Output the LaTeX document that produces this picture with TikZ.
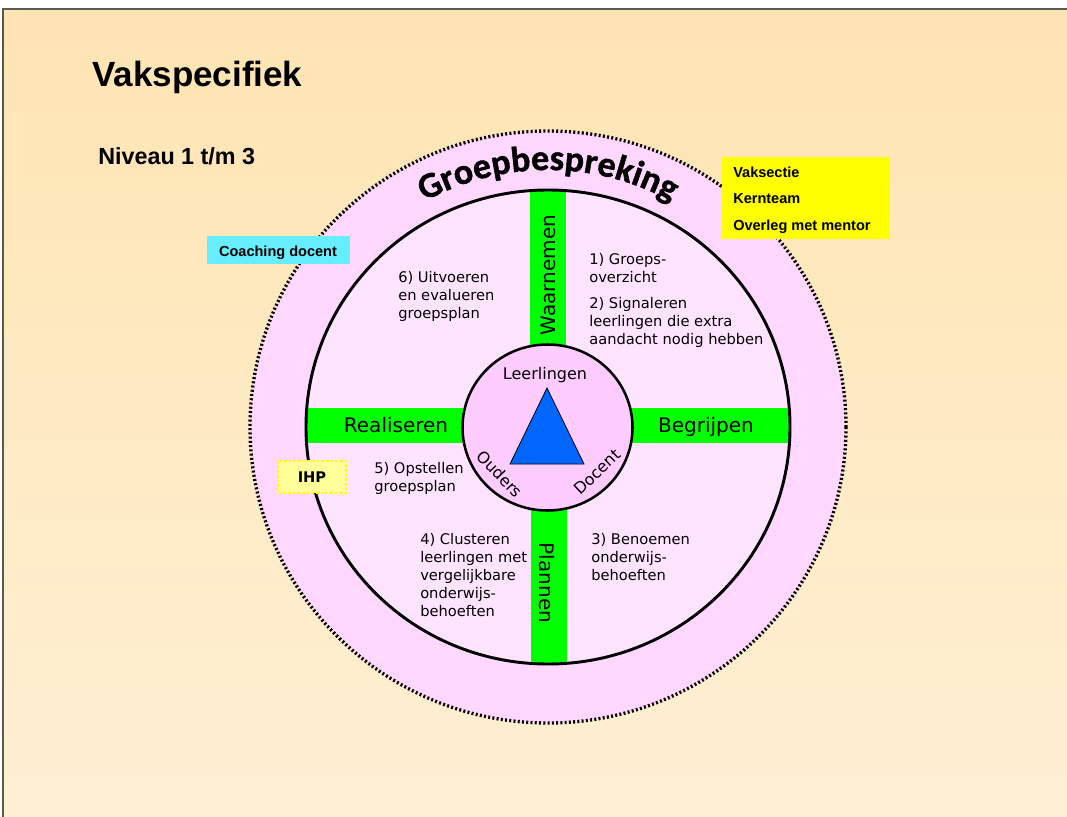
\documentclass[tikz,border=0pt]{standalone}
\usepackage{fontspec}
\setmainfont{DejaVu Sans}
\newfontfamily\arialfont{Liberation Sans}
\newfontfamily\calibrifont[FakeBold=1.2]{Carlito}
\usetikzlibrary{decorations.text}
\definecolor{bgtop}{HTML}{FEE4B2}
\definecolor{bgbottom}{HTML}{FFF0D4}
\definecolor{frame}{HTML}{5E5A52}
\definecolor{ring}{HTML}{FFD7FF}
\definecolor{disc}{HTML}{FFE4FF}
\definecolor{hub}{HTML}{FFCCFF}
\definecolor{bar}{HTML}{00FF00}
\definecolor{tri}{HTML}{0066FF}
\definecolor{coach}{HTML}{66EEFF}
\definecolor{note}{HTML}{FFFF00}
\definecolor{ihp}{HTML}{FFFF99}
\tikzset{
  body/.style={font=\fontsize{11}{13.5}\selectfont,align=left,anchor=north west,inner sep=0pt},
  barlabel/.style={font=\fontsize{15}{15}\selectfont,anchor=base,inner sep=0pt},
  hublabel/.style={font=\fontsize{12}{12}\selectfont,inner sep=0pt},
  boxlabel/.style={font=\arialfont\bfseries\fontsize{10.9}{20}\selectfont,inner sep=0pt},
}

\begin{document}
\begin{tikzpicture}[x=0.75pt,y=-0.75pt]
\useasboundingbox (0,0) rectangle (1067,817);
% slide background
\fill[white] (0,0) rectangle (1067,817);
\shade[top color=bgtop,bottom color=bgbottom] (3,9) rectangle (1067,817);
\draw[frame,line width=1.5pt] (3,817) -- (3,9) -- (1067,9);
% titles
\node[font=\arialfont\bfseries\fontsize{26.25}{26.25}\selectfont,anchor=base west,inner sep=0pt] (titel) at (92,87) {Vakspecifiek};
\node[font=\arialfont\bfseries\fontsize{17.5}{17.5}\selectfont,anchor=base west,inner sep=0pt] (niveau) at (98,164) {Niveau 1 t/m 3};
% outer ring
\fill[ring] (548,427) ellipse [x radius=298,y radius=296];
\draw[line width=2.5pt,dash pattern=on 1.5pt off 1.7pt] (548,427) ellipse [x radius=298,y radius=296];
% inner disc with the cross
\fill[disc] (548,427) ellipse [x radius=242,y radius=237];
\begin{scope}
  \clip (548,427) ellipse [x radius=242,y radius=237];
  \fill[bar] (530,150) rectangle (566,430);
  \fill[bar] (531,430) rectangle (567,700);
  \fill[bar] (290,408) rectangle (548,443);
  \fill[bar] (548,408) rectangle (800,443);
\end{scope}
\draw[line width=2.2pt] (548,427) ellipse [x radius=242,y radius=237];
% hub
\draw[fill=hub,line width=1.9pt] (547.5,427.5) ellipse [x radius=85,y radius=83];
\draw[fill=tri,line width=0.6pt] (547,388) -- (510,464) -- (584,464) -- cycle;
\node[hublabel,anchor=base] (leerlingen) at (545,379) {Leerlingen};
\node[hublabel,rotate=-46] (ouders) at (500,474) {Ouders};
\node[hublabel,rotate=43] (docent) at (597,472) {Docent};
% phases on the cross
\node[barlabel,rotate=90] (waarnemen) at (555,275) {Waarnemen};
\node[barlabel,rotate=-90] (plannen) at (539,583) {Plannen};
\node[barlabel] (realiseren) at (396,432) {Realiseren};
\node[barlabel] (begrijpen) at (706,432) {Begrijpen};
% steps
\node[body] (stap1) at (589,253) {1) Groeps-\\overzicht\\[6pt]2) Signaleren\\leerlingen die extra\\aandacht nodig hebben};
\node[body] (stap3) at (591,533) {3) Benoemen\\onderwijs-\\behoeften};
\node[body] (stap4) at (420,533) {4) Clusteren\\leerlingen met\\vergelijkbare\\onderwijs-\\behoeften};
\node[body] (stap5) at (374,462) {5) Opstellen\\groepsplan};
\node[body] (stap6) at (398,271) {6) Uitvoeren\\en evalueren\\groepsplan};
% curved heading on the ring
\begin{scope}[shift={(548,427)},x=0.75pt,y=0.75pt]
  \path[decorate,decoration={text along path,text align=center,
      text={|\calibrifont\bfseries\fontsize{27}{27}\selectfont|Groepbespreking}}]
    (150:257) arc[start angle=150,end angle=30,radius=257];
\end{scope}
% side boxes
\fill[coach] (207,236) rectangle (350,264);
\node[boxlabel,anchor=base] (coaching) at (278,256) {Coaching docent};
\fill[note] (722,157) rectangle (890,239);
\node[boxlabel,anchor=north west,align=left] (overleg) at (733,166.5) {Vaksectie\\Kernteam\\Overleg met mentor};
\draw[note,fill=ihp,line width=2.2pt,dash pattern=on 2pt off 1.5pt] (278,461) rectangle (346,493);
\node[font=\bfseries\fontsize{11}{11}\selectfont,inner sep=0pt] (ihp) at (312,477) {IHP};
\end{tikzpicture}
\end{document}
